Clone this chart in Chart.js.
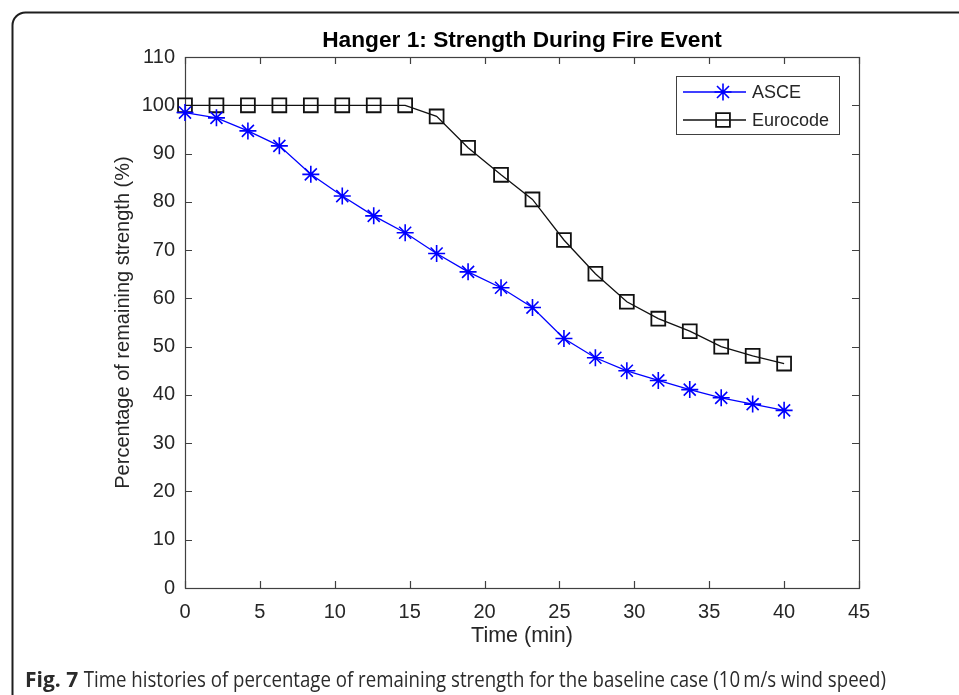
<!DOCTYPE html>
<html>
<head>
<meta charset="utf-8">
<script src="https://cdn.jsdelivr.net/npm/chart.js@4.4.1/dist/chart.umd.min.js"></script>
<style>
  html, body { margin: 0; padding: 0; background: #fff; }
  #wrap { width: 959px; height: 695px; }
</style>
</head>
<body>
<div id="wrap"><canvas id="hanger" width="959" height="695"></canvas></div>
<script>
// time axis (min) and remaining strength (%) for each code
var times = [0, 2.1, 4.2, 6.3, 8.4, 10.5, 12.6, 14.7, 16.8, 18.9, 21.1, 23.2, 25.3, 27.4, 29.5, 31.6, 33.7, 35.8, 37.9, 40];
var asce = [98.5, 97.4, 94.7, 91.6, 85.7, 81.2, 77.1, 73.6, 69.3, 65.5, 62.2, 58.1, 51.7, 47.7, 45.0, 43.0, 41.1, 39.4, 38.1, 36.8];
var eurocode = [100, 100, 100, 100, 100, 100, 100, 100, 97.7, 91.2, 85.6, 80.5, 72.1, 65.1, 59.3, 55.8, 53.2, 50.0, 48.1, 46.5];
var xTicks = [0, 5, 10, 15, 20, 25, 30, 35, 40, 45];
var yTicks = [0, 10, 20, 30, 40, 50, 60, 70, 80, 90, 100, 110];

var chartTitle = 'Hanger 1: Strength During Fire Event';
var xTitle = 'Time (min)';
var yTitle = 'Percentage of remaining strength (%)';
var captionBold = 'Fig. 7';
var captionText = 'Time histories of percentage of remaining strength for the baseline case (10\u2009m/s wind speed)';

function toPoints(xs, ys) {
    var pts = [];
    for (let i = 0; i < xs.length; i++) {
        pts.push({x: xs[i], y: ys[i]});
    }
    return pts;
}

var axisColor = '#404040';
var textColor = '#262626';
var helv = '"Liberation Sans", Arial, sans-serif';

// box round the plot with inward ticks on all four sides
var boxPlugin = {
    id: 'boxPlugin',
    beforeDatasetsDraw: function(chart) {
        var ctx = chart.ctx, a = chart.chartArea;
        var xs = chart.scales.x, ys = chart.scales.y;
        var tl = 7;
        ctx.save();
        ctx.strokeStyle = axisColor;
        ctx.lineWidth = 1.2;
        ctx.beginPath();
        xs.ticks.forEach(function(t) {
            var px = Math.round(xs.getPixelForValue(t.value)) + 0.5;
            ctx.moveTo(px, a.bottom); ctx.lineTo(px, a.bottom - tl);
            ctx.moveTo(px, a.top); ctx.lineTo(px, a.top + tl);
        });
        ys.ticks.forEach(function(t) {
            var py = Math.round(ys.getPixelForValue(t.value)) + 0.5;
            ctx.moveTo(a.left, py); ctx.lineTo(a.left + tl, py);
            ctx.moveTo(a.right, py); ctx.lineTo(a.right - tl, py);
        });
        ctx.stroke();
        ctx.strokeRect(Math.round(a.left) + 0.5, Math.round(a.top) + 0.5,
            Math.round(a.right - a.left), Math.round(a.bottom - a.top));
        ctx.restore();
    }
};

function drawMarker(ctx, ds, x, y) {
    var opts = {
        pointStyle: ds.pointStyle,
        radius: ds.pointRadius,
        rotation: 0,
        borderWidth: ds.pointBorderWidth
    };
    ctx.save();
    ctx.strokeStyle = ds.pointBorderColor;
    ctx.fillStyle = ds.pointBackgroundColor;
    ctx.lineWidth = ds.pointBorderWidth;
    Chart.helpers.drawPoint(ctx, opts, x, y);
    ctx.restore();
}

// boxed legend in the upper right corner, line + marker + label
var legendPlugin = {
    id: 'legendPlugin',
    afterDatasetsDraw: function(chart) {
        var ctx = chart.ctx;
        var bx = 676, by = 76, bw = 163, bh = 58;
        ctx.save();
        ctx.fillStyle = '#fff';
        ctx.fillRect(bx, by, bw, bh);
        ctx.strokeStyle = axisColor;
        ctx.lineWidth = 1;
        ctx.strokeRect(bx + 0.5, by + 0.5, bw, bh);
        ctx.font = '18px ' + helv;
        ctx.textBaseline = 'middle';
        ctx.textAlign = 'left';
        chart.data.datasets.forEach(function(ds, i) {
            var rowY = by + 16 + i * 28;
            ctx.strokeStyle = ds.borderColor;
            ctx.lineWidth = ds.borderWidth;
            ctx.beginPath();
            ctx.moveTo(bx + 7, rowY);
            ctx.lineTo(bx + 70, rowY);
            ctx.stroke();
            drawMarker(ctx, ds, bx + 47, rowY);
            ctx.fillStyle = textColor;
            ctx.fillText(ds.label, bx + 76, rowY + 1);
        });
        ctx.restore();
    }
};

// outer frame and figure caption
var framePlugin = {
    id: 'framePlugin',
    afterDraw: function(chart) {
        var ctx = chart.ctx;
        var r = 13, fx = 12.5, fy = 12.5;
        ctx.save();
        ctx.strokeStyle = '#1e1e1e';
        ctx.lineWidth = 2;
        ctx.beginPath();
        ctx.moveTo(fx, 710);
        ctx.lineTo(fx, fy + r);
        ctx.arcTo(fx, fy, fx + r, fy, r);
        ctx.lineTo(980, fy);
        ctx.stroke();

        var cy = 681;
        ctx.textBaseline = 'middle';
        ctx.textAlign = 'left';
        ctx.fillStyle = '#2b2b2b';
        ctx.font = 'bold 21px "Open Sans", "Noto Sans", sans-serif';
        ctx.fillText(captionBold, 25, cy);
        var w = ctx.measureText(captionBold + ' ').width;
        ctx.font = '21px "Open Sans", "Noto Sans", sans-serif';
        ctx.fillText(captionText, 25 + w, cy, 886 - 25 - w);
        ctx.restore();
    }
};

const ctx = document.getElementById('hanger');
new Chart(ctx, {
    type: 'line',
    data: {
        datasets: [
            {
                label: 'ASCE',
                data: toPoints(times, asce),
                borderColor: '#0000ff',
                backgroundColor: '#0000ff',
                borderWidth: 1.3,
                pointStyle: 'star',
                pointRadius: 8.5,
                pointBorderWidth: 1.6,
                pointBorderColor: '#0000ff',
                pointBackgroundColor: '#0000ff',
                tension: 0,
                clip: false
            },
            {
                label: 'Eurocode',
                data: toPoints(times, eurocode),
                borderColor: '#111111',
                backgroundColor: '#ffffff',
                borderWidth: 1.3,
                pointStyle: 'rect',
                pointRadius: 9.8,
                pointBorderWidth: 1.8,
                pointBorderColor: '#111111',
                pointBackgroundColor: 'rgba(255,255,255,0)',
                tension: 0,
                clip: false
            }
        ]
    },
    options: {
        responsive: false,
        animation: false,
        devicePixelRatio: 1,
        layout: {
            padding: {left: 0, right: 100, top: 0, bottom: 0}
        },
        plugins: {
            legend: {display: false},
            tooltip: {enabled: false},
            title: {
                display: true,
                text: chartTitle,
                fullSize: false,
                color: '#000',
                font: {family: helv, size: 22.7, weight: 'bold', lineHeight: 1.2},
                padding: {top: 27, bottom: 2.8}
            }
        },
        scales: {
            x: {
                type: 'linear',
                min: 0,
                max: 45,
                afterBuildTicks: function(scale) {
                    scale.ticks = xTicks.map(function(v) { return {value: v}; });
                },
                afterFit: function(scale) { scale.height = 107; },
                grid: {display: false},
                border: {display: false},
                ticks: {
                    color: textColor,
                    padding: 4,
                    maxRotation: 0,
                    font: {family: helv, size: 20}
                },
                title: {
                    display: true,
                    text: xTitle,
                    color: textColor,
                    font: {family: helv, size: 21.5, lineHeight: 1.2},
                    padding: {top: 0, bottom: 46}
                }
            },
            y: {
                type: 'linear',
                min: 0,
                max: 110,
                afterBuildTicks: function(scale) {
                    scale.ticks = yTicks.map(function(v) { return {value: v}; });
                },
                afterFit: function(scale) { scale.width = 185; },
                grid: {display: false},
                border: {display: false},
                ticks: {
                    color: textColor,
                    padding: 2,
                    font: {family: helv, size: 20}
                },
                title: {
                    display: true,
                    text: yTitle,
                    color: textColor,
                    font: {family: helv, size: 20, lineHeight: 1.2},
                    padding: {top: 111, bottom: 0}
                }
            }
        }
    },
    plugins: [boxPlugin, legendPlugin, framePlugin]
});
</script>
</body>
</html>
